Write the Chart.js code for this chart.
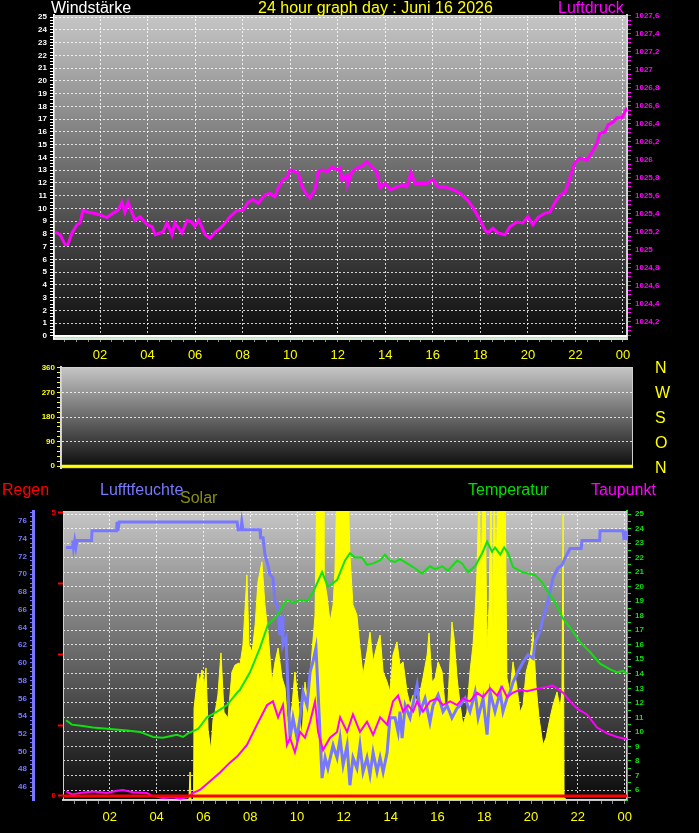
<!DOCTYPE html>
<html>
<head>
<meta charset="utf-8">
<script src="https://cdn.jsdelivr.net/npm/chart.js"></script>
<style>
body{margin:0;background:#000;width:699px;height:833px;overflow:hidden;position:relative;font-family:"Liberation Sans",Arial,sans-serif;}
canvas{position:absolute;left:0;}
.t{position:absolute;font-size:16px;line-height:16px;white-space:nowrap;z-index:2;}
</style>
</head>
<body>
<canvas id="topChart" width="699" height="370" style="top:0"></canvas>
<canvas id="midChart" width="699" height="115" style="top:360px"></canvas>
<canvas id="botChart" width="699" height="355" style="top:478px"></canvas>

<div class="t" style="left:51px;top:0;color:#fff">Windstärke</div>
<div class="t" style="left:258px;top:0;color:#ffff00">24 hour graph day : Juni 16 2026</div>
<div class="t" style="left:558px;top:0;color:#ff00ff">Luftdruck</div>
<div class="t" style="left:655px;top:355px;line-height:25px;color:#ffff00">N<br>W<br>S<br>O<br>N</div>
<div class="t" style="left:2px;top:482px;color:#ff0000">Regen</div>
<div class="t" style="left:100px;top:482px;color:#7878ff">Lufftfeuchte</div>
<div class="t" style="left:180px;top:490px;color:#8c8c10">Solar</div>
<div class="t" style="left:468px;top:482px;color:#00e000">Temperatur</div>
<div class="t" style="left:591px;top:482px;color:#ff00ff">Taupunkt</div>

<script>
const pressHours = [0.11,0.32,0.53,0.65,0.82,1.03,1.16,1.28,1.49,1.70,2.00,2.29,2.55,2.76,2.92,3.05,3.18,3.34,3.47,3.68,3.98,4.19,4.32,4.65,4.82,5.03,5.15,5.45,5.66,5.87,5.99,6.16,6.42,6.63,6.84,7.05,7.26,7.47,7.76,8.01,8.22,8.43,8.65,8.94,9.15,9.36,9.49,9.70,9.87,9.99,10.20,10.33,10.50,10.71,10.83,11.04,11.17,11.34,11.55,11.76,11.97,12.10,12.18,12.39,12.43,12.60,12.81,13.06,13.23,13.44,13.65,13.78,13.99,14.20,14.49,14.75,14.91,15.08,15.25,15.46,15.75,16.01,16.22,16.51,16.85,17.14,17.44,17.69,17.99,18.20,18.32,18.53,18.74,19.04,19.25,19.54,19.79,20.00,20.21,20.42,20.72,20.93,21.14,21.35,21.56,21.77,21.98,22.19,22.49,22.70,22.91,23.03,23.24,23.37,23.58,23.75,23.96,24.17];
const pressValues = [1025.20,1025.17,1025.06,1025.06,1025.19,1025.28,1025.30,1025.44,1025.42,1025.41,1025.39,1025.36,1025.41,1025.44,1025.53,1025.42,1025.53,1025.42,1025.33,1025.37,1025.28,1025.26,1025.17,1025.20,1025.30,1025.17,1025.30,1025.19,1025.33,1025.31,1025.26,1025.33,1025.17,1025.13,1025.20,1025.24,1025.30,1025.37,1025.44,1025.44,1025.53,1025.56,1025.52,1025.61,1025.63,1025.59,1025.69,1025.78,1025.81,1025.89,1025.87,1025.86,1025.70,1025.61,1025.58,1025.67,1025.87,1025.89,1025.87,1025.92,1025.89,1025.91,1025.78,1025.83,1025.74,1025.87,1025.91,1025.94,1025.98,1025.92,1025.86,1025.69,1025.74,1025.67,1025.70,1025.72,1025.70,1025.86,1025.74,1025.74,1025.74,1025.78,1025.70,1025.70,1025.67,1025.63,1025.56,1025.47,1025.33,1025.22,1025.19,1025.24,1025.19,1025.17,1025.26,1025.31,1025.30,1025.37,1025.28,1025.36,1025.41,1025.42,1025.53,1025.61,1025.64,1025.80,1025.97,1026.02,1026.00,1026.09,1026.19,1026.30,1026.31,1026.39,1026.42,1026.47,1026.47,1026.58];

const windHours = [0.06, 24.17];
const windSpeed = [0, 0];   // Windstärke
const windDir = [0, 0];     // Windrichtung

const humHours = [0.13,0.40,0.42,0.45,0.50,0.55,0.60,1.22,1.24,2.29,2.31,2.35,2.40,7.44,7.48,7.60,7.64,7.69,8.42,8.44,8.55,8.63,8.76,8.85,8.97,9.06,9.19,9.27,9.36,9.40,9.53,9.62,9.70,9.83,10.00,10.13,10.26,10.43,10.56,10.68,10.81,10.90,11.07,11.20,11.32,11.54,11.71,11.84,11.97,12.14,12.26,12.39,12.56,12.69,12.82,12.99,13.12,13.25,13.42,13.55,13.68,13.85,13.97,14.19,14.32,14.40,14.49,14.62,14.83,15.13,15.26,15.47,15.68,15.81,16.03,16.24,16.41,16.62,16.84,16.97,17.18,17.39,17.61,17.74,17.95,18.12,18.25,18.46,18.68,18.80,18.97,19.10,19.23,19.44,19.66,19.87,20.09,20.17,20.38,20.51,20.68,20.81,20.94,21.15,21.32,21.45,21.67,22.14,22.18,22.93,22.95,23.93,23.97,24.05,24.10];
const humValues = [73.0,73.0,73.8,73.0,73.8,73.0,73.8,73.8,74.9,74.9,75.9,74.9,75.9,75.9,75.0,75.0,75.9,75.0,75.0,74.1,74.1,72.2,71.0,69.9,69.6,66.9,66.2,63.1,65.4,62.0,62.8,56.7,51.5,53.8,51.5,53.8,56.7,55.2,59.0,60.1,61.7,56.7,47.0,49.3,48.1,50.7,49.3,51.5,48.5,50.7,46.2,49.3,48.1,50.7,47.7,49.3,47.4,49.9,47.7,49.3,47.7,49.9,53.8,53.8,52.2,54.5,51.5,55.2,53.8,57.5,54.5,56.0,53.3,55.2,56.4,54.5,55.2,53.8,54.9,55.2,56.0,54.5,56.7,53.8,56.0,51.9,56.7,54.5,56.7,54.5,56.0,56.7,57.8,59.0,60.1,60.9,60.5,62.3,63.5,65.1,66.5,68.0,69.6,70.7,71.0,71.8,72.9,72.9,73.8,73.8,74.9,74.9,74.0,74.0,74.9];

const tempHours = [0.13,0.38,0.85,1.28,2.01,2.74,3.29,3.85,4.27,4.57,4.87,5.13,5.34,5.56,5.77,6.15,6.58,7.01,7.44,7.56,7.99,8.42,8.76,9.15,9.40,9.57,9.83,10.13,10.43,10.68,11.07,11.32,11.71,12.05,12.26,12.48,12.78,12.99,13.25,13.55,13.76,13.97,14.19,14.40,14.70,14.96,15.34,15.68,15.90,16.20,16.45,16.84,17.05,17.31,17.61,17.91,18.12,18.33,18.46,18.68,18.85,19.02,19.23,19.62,19.87,20.17,20.47,20.73,21.03,21.37,21.75,22.09,22.52,22.95,23.38,23.68,23.93,24.10];
const tempValues = [10.8,10.5,10.4,10.3,10.2,10.1,10.0,9.65,9.6,9.7,9.8,9.65,9.9,10.05,10.2,11.0,11.4,11.85,12.7,12.9,14.1,15.8,17.4,18.0,18.7,19.1,18.9,19.1,19.0,19.6,21.0,20.0,20.45,21.8,22.3,22.0,22.0,21.5,21.6,21.8,22.2,21.8,21.7,21.9,21.6,21.35,20.9,21.4,21.2,21.4,21.1,21.8,21.6,21.0,21.4,22.3,23.1,22.4,22.7,22.2,22.7,22.3,21.35,21.0,20.9,20.8,20.3,19.6,18.9,17.8,17.0,16.2,15.5,14.7,14.3,14.1,14.2,14.0];

const dewHours = [0.13,0.38,0.73,1.28,1.88,2.31,2.56,2.99,3.59,3.80,4.27,4.70,5.00,5.30,5.56,5.85,6.28,6.71,7.14,7.44,7.86,8.29,8.72,8.97,9.19,9.40,9.57,9.70,9.91,10.13,10.34,10.56,10.77,10.90,11.11,11.41,11.71,11.84,12.14,12.39,12.69,12.99,13.25,13.55,13.85,14.10,14.32,14.53,14.74,14.96,15.13,15.38,15.68,15.98,16.24,16.54,16.84,17.09,17.39,17.69,17.95,18.25,18.55,18.76,18.97,19.23,19.53,19.83,20.09,20.38,20.68,20.90,21.11,21.37,21.67,21.97,22.39,22.82,23.25,23.68,24.10];
const dewValues = [5.9,5.7,5.8,5.9,5.8,5.95,6.0,5.85,5.8,5.6,5.45,5.5,5.4,5.5,5.8,6.0,6.6,7.2,7.9,8.3,9.1,10.5,11.85,12.1,11.0,11.85,9.1,9.6,8.6,10.0,9.6,10.7,12.1,10.0,8.75,9.6,10.0,11.0,10.0,11.2,10.0,10.7,9.8,11.0,10.5,12.1,12.5,11.4,11.85,11.4,12.1,11.4,12.1,12.3,11.85,12.1,11.85,12.3,12.1,12.7,12.4,13.0,12.5,13.1,12.4,12.7,12.9,12.8,12.9,13.0,13.1,13.2,13.0,12.7,12.1,11.6,11.2,10.3,9.9,9.65,9.5];

const solarHours = [0,5.38,5.43,5.47,5.58,5.60,5.77,5.85,5.94,6.03,6.11,6.20,6.32,6.41,6.50,6.62,6.75,6.88,7.05,7.22,7.35,7.52,7.56,7.69,7.86,7.95,8.08,8.21,8.33,8.50,8.63,8.76,8.93,9.06,9.19,9.36,9.49,9.62,9.79,9.91,10.04,10.21,10.34,10.47,10.64,10.77,10.85,11.11,11.15,11.28,11.41,11.54,11.62,11.71,12.18,12.26,12.39,12.56,12.69,12.82,12.99,13.12,13.25,13.42,13.55,13.68,13.85,13.97,14.10,14.27,14.40,14.53,14.70,14.83,14.96,15.17,15.38,15.56,15.64,15.77,15.90,16.03,16.20,16.32,16.45,16.62,16.71,16.84,16.97,17.09,17.26,17.39,17.52,17.61,17.69,17.78,17.86,17.95,18.03,18.12,18.21,18.29,18.38,18.42,18.50,18.59,18.89,18.97,19.10,19.23,19.40,19.53,19.66,19.79,19.91,20.04,20.09,20.21,20.34,20.51,20.64,20.81,20.94,21.11,21.24,21.32,21.37,21.41,21.45,24.10];
const solarValues = [0,0,97,0,0,318,439,408,450,391,457,242,173,277,304,363,509,304,284,443,467,474,467,536,779,536,512,606,754,824,675,581,408,478,526,422,388,235,329,443,353,215,408,329,512,640,1100,1100,768,709,616,675,789,1100,1100,848,675,640,526,433,512,581,478,536,571,443,408,374,502,547,467,478,374,329,363,340,422,502,578,408,422,478,443,329,339,616,560,422,329,260,304,443,536,651,789,1100,734,1100,1100,526,675,1100,581,1100,789,1100,1100,422,374,478,388,304,329,443,478,536,581,398,284,190,215,284,329,374,318,374,990,7,0,0];

const rainHours = [0, 24.10];
const rainValues = [0, 0];

Chart.defaults.font.family = 'Liberation Sans';
Chart.defaults.animation = false;

const DOT = 'rgba(255,255,255,0.8)';
const NONE = 'rgba(0,0,0,0)';

function pts(hours, values){ //Paare x/y für Chart.js
    return hours.map((h, i) => ({x: h, y: values[i]}));
}

function tickRange(from, to, step){ //Tick-Liste ohne Rundungsfehler
    let out = [];
    let n = Math.round((to - from) / step);
    for(let i = 0; i <= n; i++){
        out.push({value: +(from + i * step).toFixed(3)});
    }
    return out;
}

function isMult(v, m){
    return Math.abs(v / m - Math.round(v / m)) < 1e-6;
}

const bgPlugin = { //grauer Verlauf im Diagramm
    id: 'bg',
    beforeDraw(chart){
        const {ctx, chartArea: a} = chart;
        let g = ctx.createLinearGradient(0, a.top, 0, a.bottom);
        g.addColorStop(0, '#c6c6c6');
        g.addColorStop(1, '#0a0a0a');
        ctx.save();
        ctx.fillStyle = g;
        ctx.fillRect(a.left, a.top, a.right - a.left, a.bottom - a.top);
        ctx.restore();
    },
    beforeDatasetsDraw(chart){
        const {ctx, chartArea: a} = chart;
        ctx.save();
        ctx.strokeStyle = '#cfcfcf';
        ctx.lineWidth = 1;
        ctx.strokeRect(a.left + 0.5, a.top + 0.5, a.right - a.left - 1, a.bottom - a.top - 1);
        ctx.restore();
    }
};

function timeAxis(min, max, height, borderColor, borderWidth){
    return {
        type: 'linear', position: 'bottom', min: min, max: max,
        afterBuildTicks: s => { s.ticks = tickRange(0.5, 24, 0.5).filter(t => t.value >= min && t.value <= max); },
        afterFit: s => { s.height = height; },
        ticks: {
            autoSkip: false, maxRotation: 0, color: '#ffff00', padding: 6, font: {size: 13},
            callback: v => isMult(v, 2) ? String(Math.round(v) % 24).padStart(2, '0') : ''
        },
        grid: {
            color: c => (c.tick && isMult(c.tick.value, 2)) ? DOT : NONE,
            tickColor: '#8c8c8c', tickLength: 4, tickBorderDash: []
        },
        border: {dash: [2, 2], color: borderColor, width: borderWidth}
    };
}

const baseOptions = {
    responsive: false,
    devicePixelRatio: 1,
    animation: false,
    plugins: {legend: {display: false}, tooltip: {enabled: false}},
    elements: {point: {radius: 0}, line: {tension: 0}}
};

// oben: Windstärke / Luftdruck
const topChart = new Chart(document.getElementById('topChart'), {
    type: 'line',
    data: {
        datasets: [
            {data: pts(windHours, windSpeed), yAxisID: 'wind', borderColor: '#ffffff', borderWidth: 2},
            {data: pts(pressHours, pressValues), yAxisID: 'press', borderColor: '#ff00ff', borderWidth: 3}
        ]
    },
    options: Object.assign({}, baseOptions, {
        layout: {padding: {top: 15, left: 0, right: 0, bottom: 0}},
        scales: {
            x: timeAxis(0.063, 24.17, 32, '#d4ecd4', 3),
            wind: {
                type: 'linear', position: 'left', min: -0.157, max: 25.16,
                afterBuildTicks: s => { s.ticks = tickRange(0, 25, 0.25); },
                afterFit: s => { s.width = 54; },
                ticks: {autoSkip: false, color: '#ffffff', padding: 3, font: {size: 8, weight: 'bold'},
                    callback: v => isMult(v, 1) ? String(v) : ''},
                grid: {color: c => (c.tick && isMult(c.tick.value, 1) && c.tick.value > 0) ? DOT : NONE,
                    tickColor: '#ffffff', tickLength: 4, tickBorderDash: []},
                border: {dash: [2, 2], color: '#ffffff', width: 2}
            },
            press: {
                type: 'linear', position: 'right', min: 1024.022, max: 1027.611,
                afterBuildTicks: s => { s.ticks = tickRange(1024.05, 1027.6, 0.05); },
                afterFit: s => { s.width = 72; },
                ticks: {autoSkip: false, color: '#ff00ff', padding: 4, font: {size: 8, weight: 'bold'},
                    callback: v => (isMult(v, 0.2) && v >= 1024.19) ? String(+v.toFixed(1)).replace('.', ',') : ''},
                grid: {drawOnChartArea: false, tickColor: '#ff00ff', tickLength: 4, tickBorderDash: []},
                border: {color: '#d8d8d8', width: 2}
            }
        }
    }),
    plugins: [bgPlugin]
});

// Mitte: Windrichtung
const midChart = new Chart(document.getElementById('midChart'), {
    type: 'line',
    data: {
        datasets: [
            {data: pts(windHours, windDir), yAxisID: 'dir', borderColor: '#ffff00', borderWidth: 3}
        ]
    },
    options: Object.assign({}, baseOptions, {
        layout: {padding: {top: 7, left: 0, right: 66, bottom: 6}},
        scales: {
            x: {type: 'linear', display: false, min: 0.063, max: 24.17},
            dir: {
                type: 'linear', position: 'left', min: -7.27, max: 363.6,
                afterBuildTicks: s => { s.ticks = tickRange(0, 360, 18); },
                afterFit: s => { s.width = 61; },
                ticks: {autoSkip: false, color: '#ffff00', padding: 2, font: {size: 8, weight: 'bold'},
                    callback: v => isMult(v, 90) ? String(v) : ''},
                grid: {color: c => (c.tick && isMult(c.tick.value, 90) && c.tick.value > 0 && c.tick.value < 360) ? DOT : NONE,
                    tickColor: '#ffff00', tickLength: 4, tickBorderDash: []},
                border: {dash: [2, 2], color: '#d8d8d8', width: 2}
            }
        }
    }),
    plugins: [bgPlugin]
});

// unten: Regen / Luftfeuchte / Solar / Temperatur / Taupunkt
const botChart = new Chart(document.getElementById('botChart'), {
    type: 'line',
    data: {
        datasets: [
            {data: pts(rainHours, rainValues), yAxisID: 'rain', borderColor: '#ff0000', borderWidth: 3, order: 1},
            {data: pts(dewHours, dewValues), yAxisID: 'temp', borderColor: '#ff00ff', borderWidth: 2, order: 2},
            {data: pts(tempHours, tempValues), yAxisID: 'temp', borderColor: '#10e010', borderWidth: 2, order: 3},
            {data: pts(humHours, humValues), yAxisID: 'hum', borderColor: '#7878ff', borderWidth: 3, order: 4},
            {data: pts(solarHours, solarValues), yAxisID: 'solar', borderColor: '#ffff00', backgroundColor: '#ffff00',
                borderWidth: 1, fill: 'origin', order: 5}
        ]
    },
    options: Object.assign({}, baseOptions, {
        layout: {padding: {top: 33, left: 0, right: 0, bottom: 0}},
        scales: {
            x: timeAxis(0, 24.10, 33, '#c8c8c8', 2),
            hum: {
                type: 'linear', position: 'left', weight: 2, min: 44.534, max: 77.128,
                afterBuildTicks: s => { s.ticks = tickRange(45, 77, 0.5); },
                afterFit: s => { s.width = 33; },
                ticks: {autoSkip: false, color: '#7878ff', padding: 3, font: {size: 8, weight: 'bold'},
                    callback: v => isMult(v, 2) ? String(v) : ''},
                grid: {drawOnChartArea: false, tickColor: '#7878ff', tickLength: 3, tickBorderDash: []},
                border: {color: '#7878ff', width: 3}
            },
            rain: {
                type: 'linear', position: 'left', weight: 1, min: -0.0707, max: 5.035,
                afterBuildTicks: s => { s.ticks = tickRange(0, 5, 1.25); },
                afterFit: s => { s.width = 30; },
                ticks: {autoSkip: false, color: '#ff0000', padding: 2, font: {size: 8, weight: 'bold'},
                    callback: v => (v === 0 || v === 5) ? String(v) : ''},
                grid: {drawOnChartArea: false, tickColor: '#ff0000', tickLength: 5, tickWidth: 2, tickBorderDash: []},
                border: {display: false}
            },
            solar: {type: 'linear', display: false, min: 0, max: 1000},
            temp: {
                type: 'linear', position: 'right', min: 5.312, max: 25.207,
                afterBuildTicks: s => { s.ticks = tickRange(5.5, 25, 0.5); },
                afterFit: s => { s.width = 72; },
                ticks: {autoSkip: false, color: '#10e010', padding: 4, font: {size: 8, weight: 'bold'},
                    callback: v => (isMult(v, 1) && v >= 6) ? String(v) : ''},
                grid: {color: c => (c.tick && isMult(c.tick.value, 1) && c.tick.value >= 6) ? DOT : NONE,
                    tickColor: '#10e010', tickLength: 4, tickBorderDash: []},
                border: {dash: [2, 2], color: '#10e010', width: 2}
            }
        }
    }),
    plugins: [bgPlugin]
});
</script>
</body>
</html>
